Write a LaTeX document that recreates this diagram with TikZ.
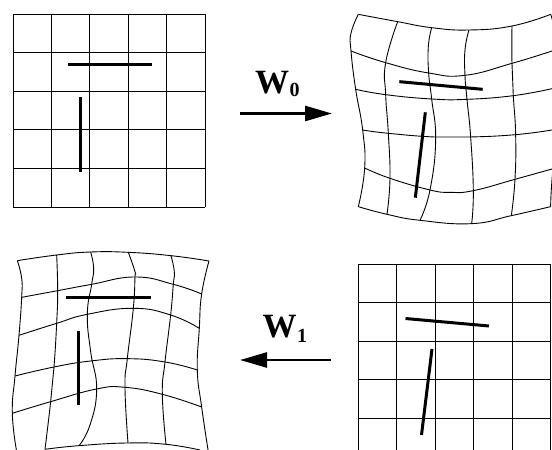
\documentclass[tikz,border=0pt]{standalone}
\usepackage{fontspec}
\setmainfont{Liberation Serif}
\usetikzlibrary{arrows.meta}
\tikzset{
  gridline/.style={black,line width=0.95pt,line join=round},
  warpline/.style={black,line width=0.9pt,line join=round,smooth,tension=0.8},
  feature/.style={black,line width=3pt},
  maparrow/.style={black,line width=2.6pt,-{Triangle[length=27pt,width=15pt]}},
  maplabel/.style={inner sep=0pt,anchor=base west,font=\bfseries\fontsize{34}{34}\selectfont},
  sub/.style={inner sep=0pt,anchor=base west,font=\bfseries\fontsize{20}{20}\selectfont},
  zoomA/.style={shift={(340,0)},x=0.3333pt,y=-0.3333pt},
  zoomB/.style={shift={(0,235)},x=0.3333pt,y=-0.3333pt}
}
\begin{document}
\begin{tikzpicture}[x=1pt,y=-1pt]
\useasboundingbox (0,0) rectangle (552,450);
\clip (0,0) rectangle (552,450);
\fill[white] (0,0) rectangle (552,450);
% top-left regular grid
\foreach \x in {13,51.4,89.8,128.2,166.6,205} \draw[gridline] (\x,14) -- (\x,207);
\foreach \y in {14,52.6,91.2,129.8,168.4,207} \draw[gridline] (13,\y) -- (205,\y);
\draw[feature] (68,64) -- (152,64);
\draw[feature] (80,97) -- (80,172);
% bottom-right regular grid
\foreach \x in {358,396.5,435,473.5,512,550.5} \draw[gridline] (\x,264) -- (\x,455);
\foreach \y in {264,302.5,341,379.5,418} \draw[gridline] (358,\y) -- (551,\y);
\draw[feature] (405.5,318.5) -- (489,326);
\draw[feature] (432,349) -- (421.5,435);
% top-right warped grid
\begin{scope}[zoomA]
\draw[warpline] plot coordinates {(55,43)(173,65)(275,83)(387,90)(516,78)(632,43)};
\draw[warpline] plot coordinates {(33,153)(137,188)(266,219)(375,226)(516,190)(636,153)};
\draw[warpline] plot coordinates {(47,268)(137,284)(275,297)(381,298)(520,287)(636,266)};
\draw[warpline] plot coordinates {(68,390)(145,400)(283,411)(392,411)(527,404)(636,390)};
\draw[warpline] plot coordinates {(74,504)(150,535)(270,570)(330,577)(400,572)(525,538)(636,507)};
\draw[warpline] plot coordinates {(55,620)(141,643)(240,661)(395,671)(514,647)(632,620)};
\draw[warpline] plot coordinates {(55,43)(33,100)(33,153)(47,268)(68,390)(74,504)(55,620)};
\draw[warpline] plot coordinates {(173,65)(137,188)(137,284)(145,400)(150,535)(141,643)};
\draw[warpline] plot coordinates {(275,83)(265,140)(266,219)(275,297)(287,420)(270,570)(240,661)};
\draw[warpline] plot coordinates {(387,90)(375,150)(375,226)(381,298)(392,411)(400,572)(395,671)};
\draw[warpline] plot coordinates {(516,78)(516,190)(520,287)(527,404)(525,538)(514,647)};
\draw[warpline] plot coordinates {(632,43)(650,153)(650,390)(636,540)(632,620)};
\draw[feature] (178,245) -- (428,268);
\draw[feature] (256,337) -- (226,593);
\end{scope}
% bottom-left warped grid
\begin{scope}[zoomB]
\draw[warpline] plot coordinates {(52,77)(170,60)(272,51)(385,52)(513,62)(627,78)};
\draw[warpline] plot coordinates {(65,187)(173,167)(275,148)(405,126)(520,148)(605,177)};
\draw[warpline] plot coordinates {(57,301)(170,265)(262,238)(400,220)(512,240)(598,280)};
\draw[warpline] plot coordinates {(45,423)(162,396)(272,378)(382,371)(495,381)(592,405)};
\draw[warpline] plot coordinates {(37,535)(152,500)(290,462)(375,457)(487,478)(605,516)};
\draw[warpline] plot coordinates {(135,643)(237,632)(384,624)(498,628)(600,645)};
\draw[warpline] plot coordinates {(52,77)(65,130)(65,187)(57,301)(45,423)(37,535)(50,650)};
\draw[warpline] plot coordinates {(170,60)(173,167)(170,265)(162,396)(152,500)(135,643)};
\draw[warpline] plot coordinates {(272,51)(281,100)(275,148)(262,238)(272,350)(290,462)(270,570)(237,632)};
\draw[warpline] plot coordinates {(385,52)(405,110)(405,126)(400,220)(382,371)(375,457)(384,624)};
\draw[warpline] plot coordinates {(513,62)(523,110)(520,148)(512,240)(495,381)(487,478)(498,628)};
\draw[warpline] plot coordinates {(627,78)(605,177)(598,280)(592,405)(605,516)(625,650)};
\draw[feature] (198,187) -- (454,187);
\draw[feature] (237,287) -- (237,510);
\end{scope}
% arrows and labels
\coordinate (a0s) at (240,113.5);
\coordinate (a0e) at (332,113.5);
\coordinate (a1s) at (331,360);
\coordinate (a1e) at (240,360);
\draw[maparrow] (a0s) -- (a0e);
\draw[maparrow] (a1s) -- (a1e);
\node[maplabel] (w0) at (255,93) {W};
\node[sub] (s0) at (289.5,96) {0};
\node[maplabel] (w1) at (262.5,337) {W};
\node[sub] (s1) at (297,342) {1};
\end{tikzpicture}
\end{document}
